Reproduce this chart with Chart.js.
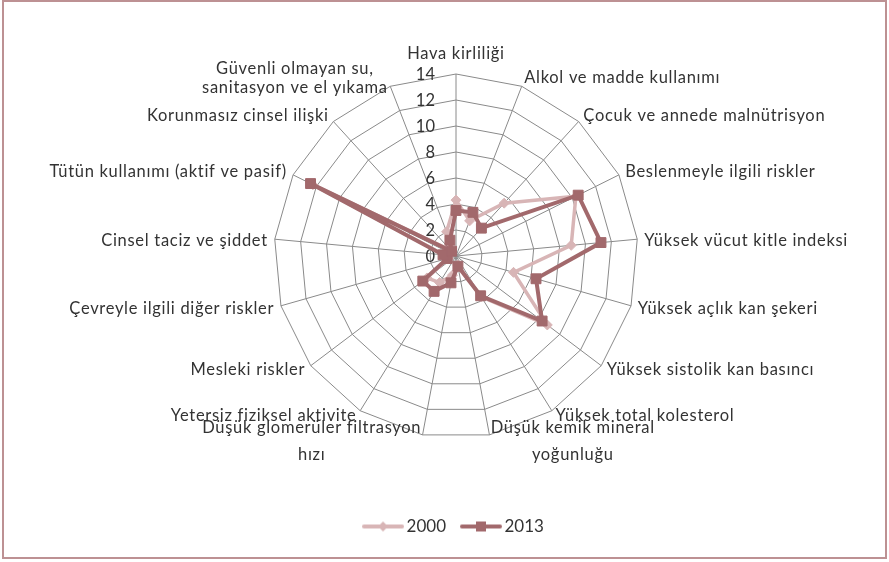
<!DOCTYPE html>
<html lang="tr">
<head>
<meta charset="utf-8">
<title>Risk faktörleri 2000 / 2013</title>
<script src="https://cdn.jsdelivr.net/npm/chart.js@4/dist/chart.umd.min.js"></script>
<style>
  html, body { margin: 0; padding: 0; background: #fff; }
  #wrap { position: relative; width: 889px; height: 562px; }
  #frame { position: absolute; left: 2px; top: 0; width: 885px; height: 559px; box-sizing: border-box; border: 2px solid #bd9193; pointer-events: none; }
  #riskChart { position: absolute; left: 0; top: 0; }
</style>
</head>
<body>
<div id="wrap">
  <canvas id="riskChart" width="889" height="562"></canvas>
  <div id="frame"></div>
</div>
<script>
const categories = [
  'Hava kirliliği',
  'Alkol ve madde kullanımı',
  'Çocuk ve annede malnütrisyon',
  'Beslenmeyle ilgili riskler',
  'Yüksek vücut kitle indeksi',
  'Yüksek açlık kan şekeri',
  'Yüksek sistolik kan basıncı',
  'Yüksek total kolesterol',
  ['Düşük kemik mineral', 'yoğunluğu'],
  ['Düşük glomerüler filtrasyon', 'hızı'],
  'Yetersiz fiziksel aktivite',
  'Mesleki riskler',
  'Çevreyle ilgili diğer riskler',
  'Cinsel taciz ve şiddet',
  'Tütün kullanımı (aktif ve pasif)',
  'Korunmasız cinsel ilişki',
  ['Güvenli olmayan su,', 'sanitasyon ve el yıkama']
];

const values2000 = [4.3, 2.9, 5.5, 10.3, 8.9, 4.6, 8.8, 3.7, 0.7, 1.5, 2.4, 2.8, 0.6, 0.9, 12.3, 0.6, 2.0];
const values2013 = [3.5, 3.6, 2.9, 10.5, 11.2, 6.4, 8.3, 3.6, 0.8, 2.1, 3.2, 3.2, 0.7, 1.0, 12.5, 0.5, 1.3];

const axisTicks = [0, 2, 4, 6, 8, 10, 12, 14];

const FONT = 'Lato, "Open Sans", sans-serif';
const TEXT_COLOR = '#333333';
const GRID_COLOR = '#8a8a8a';
const COLOR_2000 = '#d8b5b6';
const COLOR_2013 = '#a2696c';

// little line + marker picture used as the legend symbol
function legendIcon(color, shape) {
  const c = document.createElement('canvas');
  c.width = 42;
  c.height = 14;
  const ctx = c.getContext('2d');
  ctx.strokeStyle = color;
  ctx.fillStyle = color;
  ctx.lineWidth = 4;
  ctx.lineCap = 'round';
  ctx.beginPath();
  ctx.moveTo(2, 7);
  ctx.lineTo(40, 7);
  ctx.stroke();
  ctx.beginPath();
  if (shape === 'rect') {
    ctx.rect(16, 2, 10, 10);
  } else {
    ctx.moveTo(21, 2);
    ctx.lineTo(26, 7);
    ctx.lineTo(21, 12);
    ctx.lineTo(16, 7);
    ctx.closePath();
  }
  ctx.fill();
  return c;
}

// tick numbers left of the top spoke, category names around the outer ring
const spokeText = {
  id: 'spokeText',
  beforeDatasetsDraw(chart) {
    const scale = chart.scales.r;
    const ctx = chart.ctx;
    ctx.save();
    ctx.font = '16.5px ' + FONT;
    ctx.fillStyle = TEXT_COLOR;
    ctx.textAlign = 'right';
    ctx.textBaseline = 'middle';
    scale.ticks.forEach(t => {
      const y = scale.yCenter - scale.getDistanceFromCenterForValue(t.value);
      ctx.fillText(String(t.value), scale.xCenter - 21, y + 1);
    });
    ctx.restore();
  },
  afterDraw(chart) {
    const scale = chart.scales.r;
    const ctx = chart.ctx;
    ctx.save();
    ctx.font = '16.5px ' + FONT;
    ctx.letterSpacing = '0.7px';
    ctx.fillStyle = TEXT_COLOR;
    ctx.textAlign = 'center';
    ctx.textBaseline = 'middle';
    chart.data.labels.forEach((label, i) => {
      const lines = Array.isArray(label) ? label : [label];
      const angle = scale.getIndexAngle(i);
      const s = Math.sin(angle);
      const c = Math.cos(angle);
      const end = scale.getPointPosition(i, scale.drawingArea);
      const lh = c < 0 ? 27 : 19;
      const boxH = lines.length * lh;
      const boxW = Math.max(...lines.map(l => ctx.measureText(l).width));
      let cx, cy;
      if (Math.abs(s) < 0.01) {
        cx = end.x;
        cy = end.y - 20;
      } else {
        cx = s > 0 ? end.x + 7 * s + boxW / 2 : end.x + 7 * s - boxW / 2;
        cy = end.y + (c >= 0 ? 2 - 11 * c : 2 - 4 * c);
      }
      lines.forEach((l, k) => {
        ctx.fillText(l, cx, cy - boxH / 2 + lh * (k + 0.5));
      });
    });
    ctx.restore();
  }
};

new Chart(document.getElementById('riskChart'), {
  type: 'radar',
  data: {
    labels: categories,
    datasets: [
      {
        label: '2000',
        data: values2000,
        borderColor: COLOR_2000,
        backgroundColor: COLOR_2000,
        borderWidth: 3.5,
        pointStyle: 'rectRot',
        pointRadius: 5,
        pointBorderWidth: 1,
        pointBackgroundColor: COLOR_2000,
        pointBorderColor: COLOR_2000,
        fill: false,
        order: 1
      },
      {
        label: '2013',
        data: values2013,
        borderColor: COLOR_2013,
        backgroundColor: COLOR_2013,
        borderWidth: 4,
        pointStyle: 'rect',
        pointRadius: 7,
        pointBorderWidth: 1,
        pointBackgroundColor: COLOR_2013,
        pointBorderColor: COLOR_2013,
        fill: false,
        order: 0
      }
    ]
  },
  options: {
    responsive: false,
    animation: false,
    layout: { padding: { left: 274, right: 251, top: 15, bottom: 17 } },
    plugins: {
      tooltip: { enabled: false },
      legend: {
        position: 'bottom',
        labels: {
          usePointStyle: true,
          pointStyleWidth: 30,
          padding: 20,
          color: TEXT_COLOR,
          font: { family: FONT, size: 17 },
          generateLabels: chart => chart.data.datasets.map((ds, i) => ({
            text: ds.label,
            datasetIndex: i,
            pointStyle: legendIcon(ds.borderColor, ds.pointStyle),
            fillStyle: ds.borderColor,
            strokeStyle: ds.borderColor,
            lineWidth: 0,
            fontColor: TEXT_COLOR,
            hidden: false
          }))
        }
      }
    },
    scales: {
      r: {
        min: 0,
        max: 14,
        afterBuildTicks: axis => { axis.ticks = axisTicks.map(v => ({ value: v })); },
        ticks: { display: false },
        pointLabels: { display: false },
        grid: { color: GRID_COLOR, lineWidth: 1 },
        angleLines: { color: GRID_COLOR, lineWidth: 1 }
      }
    }
  },
  plugins: [spokeText]
});
</script>
</body>
</html>
